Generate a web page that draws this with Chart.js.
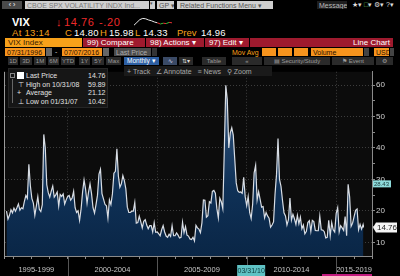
<!DOCTYPE html>
<html>
<head>
<meta charset="utf-8">
<script src="https://cdn.jsdelivr.net/npm/chart.js@4.4.1/dist/chart.umd.min.js"></script>
<style>
body{margin:0;width:400px;height:276px;background:#000;overflow:hidden;position:relative;font-family:"Liberation Sans",Arial,sans-serif}
.a{position:absolute;white-space:nowrap;line-height:1}
.box{position:absolute;box-sizing:border-box;white-space:nowrap;overflow:hidden;line-height:1}
.btn{background:#2a2a2a;color:#9c9c9c;font-size:6px;height:8px;padding-top:1px;text-align:center}
.red{background:#9e1a2e;color:#fff;font-size:8px;height:9px;padding:1px 0 0 4px}
.org{background:#f7941d;color:#2a1200;font-size:7px;height:8px;padding:1px 0 0 2px}
.amb{color:#f7a11a}
.w{color:#fff}
.lg{color:#e2e2e2;font-size:7px}
</style>
</head>
<body>
<!-- top strip -->
<div class="box" style="left:2px;top:1px;width:20px;height:8px;background:#4a4a4a;color:#fff;font-size:7px;text-align:center">&#x2039; &#x203A;</div>
<div class="box" style="left:25px;top:1px;width:124px;height:8px;background:#cfcfcf;color:#7a7a7a;font-size:7px;padding:1px 0 0 2px">CBOE SPX VOLATILITY INDX Ind...</div>
<div class="box" style="left:150px;top:1px;width:5px;height:8px;background:#cfcfcf;color:#555;font-size:5px">&#9662;</div>
<div class="box" style="left:157px;top:1px;width:17px;height:8px;background:#cfcfcf;color:#555;font-size:7px;padding:1px 0 0 2px">GP &#9662;</div>
<div class="box" style="left:177px;top:1px;width:96px;height:8px;background:#cfcfcf;color:#555;font-size:7px;padding:1px 0 0 3px">Related Functions Menu &#9662;</div>
<div class="box" style="left:317px;top:1px;width:30px;height:8px;background:#1e1e1e;color:#bbb;font-size:7px;padding:1px 0 0 2px">Message</div>
<div class="a" style="left:352px;top:1px;font-size:7px;color:#ddd">&#9733;&#9662; <span style="color:#6c6">&#9633;</span>&#9662; &#9881;&#9662; ?&#9662;</div>

<!-- quote line -->
<div class="a w" style="left:12px;top:17px;font-size:11px;font-weight:bold">VIX</div>
<div class="a" style="left:56px;top:17px;font-size:11px;color:#ee2a2a;font-weight:bold">&#8595;</div>
<div class="a" style="left:64px;top:17px;font-size:11px;color:#ee2a2a;letter-spacing:0.6px">14.76</div>
<div class="a" style="left:99px;top:17px;font-size:11px;color:#ee2a2a;letter-spacing:0.6px">-.20</div>
<canvas id="spark" width="40" height="10" style="position:absolute;left:133px;top:17px"></canvas>
<div class="a amb" style="left:12px;top:28px;font-size:9.5px;letter-spacing:0.3px">At 13:14</div>
<div class="a amb" style="left:65px;top:28px;font-size:9.5px">C</div>
<div class="a w" style="left:74px;top:28px;font-size:9.5px;letter-spacing:0.2px">14.80</div>
<div class="a amb" style="left:100px;top:28px;font-size:9.5px">H</div>
<div class="a w" style="left:109px;top:28px;font-size:9.5px;letter-spacing:0.2px">15.98</div>
<div class="a amb" style="left:135px;top:28px;font-size:9.5px">L</div>
<div class="a w" style="left:143px;top:28px;font-size:9.5px;letter-spacing:0.2px">14.33</div>
<div class="a amb" style="left:177px;top:28px;font-size:9.5px">Prev</div>
<div class="a w" style="left:201px;top:28px;font-size:9.5px;letter-spacing:0.2px">14.96</div>

<!-- function bar -->
<div class="box" style="left:5px;top:38px;width:77px;height:9px;background:#f7a11a;color:#3a1a00;font-size:8px;padding:1px 0 0 3px">VIX Index</div>
<div class="box red" style="left:83px;top:38px;width:62px">99) Compare</div>
<div class="box red" style="left:146px;top:38px;width:58px">98) Actions &#9662;</div>
<div class="box red" style="left:205px;top:38px;width:44px">97) Edit &#9662;</div>
<div class="box red" style="left:250px;top:38px;width:143px;text-align:right;padding-right:3px">Line Chart</div>

<!-- range row -->
<div class="box org" style="left:5px;top:48px;width:40px">07/31/1996</div>
<div class="box" style="left:46px;top:48px;width:6px;height:8px;background:#666"></div>
<div class="a" style="left:55px;top:48px;font-size:7px;color:#ccc">-</div>
<div class="box org" style="left:62px;top:48px;width:40px">07/07/2016</div>
<div class="box" style="left:103px;top:48px;width:6px;height:8px;background:#666"></div>
<div class="box" style="left:114px;top:48px;width:37px;height:8px;background:#4a4a4a;color:#aaa;font-size:7px;padding:1px 0 0 2px">Last Price</div>
<div class="box" style="left:152px;top:48px;width:5px;height:8px;background:#333"></div>
<div class="a amb" style="left:232px;top:49px;font-size:7px">Mov Avg</div>
<div class="box" style="left:262px;top:48px;width:14px;height:8px;background:#f7941d"></div>
<div class="box" style="left:278px;top:48px;width:14px;height:8px;background:#f7941d"></div>
<div class="box" style="left:294px;top:48px;width:14px;height:8px;background:#f7941d"></div>
<div class="box org" style="left:311px;top:48px;width:52px">Volume</div>
<div class="box" style="left:364px;top:48px;width:5px;height:8px;background:#444"></div>
<div class="box org" style="left:374px;top:48px;width:15px">USD</div>
<div class="box" style="left:390px;top:48px;width:4px;height:8px;background:#444"></div>

<!-- period buttons -->
<div class="box btn" style="left:8px;top:57px;width:10px">1D</div>
<div class="box btn" style="left:20px;top:57px;width:12px">3D</div>
<div class="box btn" style="left:34px;top:57px;width:12px">1M</div>
<div class="box btn" style="left:48px;top:57px;width:11px">6M</div>
<div class="box btn" style="left:61px;top:57px;width:14px">YTD</div>
<div class="box btn" style="left:79px;top:57px;width:11px">1Y</div>
<div class="box btn" style="left:92px;top:57px;width:12px">5Y</div>
<div class="box btn" style="left:106px;top:57px;width:15px">Max</div>
<div class="box btn" style="left:124px;top:57px;width:35px;background:#2d5fa3;color:#fff;text-align:left;padding-left:3px;font-size:6.5px">Monthly &#9662;</div>
<div class="box btn" style="left:163px;top:57px;width:14px;background:#3a4a66;color:#dde">&#8767;</div>
<div class="box btn" style="left:179px;top:57px;width:14px;color:#ddd">&#8645;&#9662;</div>
<div class="box btn" style="left:202px;top:57px;width:24px">Table</div>
<div class="box btn" style="left:232px;top:57px;width:30px">&#171;</div>
<div class="box btn" style="left:264px;top:57px;width:66px">&#9636; Security/Study</div>
<div class="box btn" style="left:332px;top:57px;width:42px">&#9873; Event</div>
<div class="box btn" style="left:376px;top:57px;width:17px">&#9881;</div>

<canvas id="chart" width="400" height="210" style="position:absolute;left:0;top:66px"></canvas>

<!-- chart toolbar -->
<div class="box" style="left:124px;top:66px;width:148px;height:10px;background:#1a1a1a;color:#a8a8a8;font-size:7px;padding:2px 0 0 3px">+ Track &nbsp;&nbsp;&#8736; Annotate &nbsp;&nbsp;&#8801; News &nbsp;&nbsp;&#9906; Zoom</div>

<!-- legend -->
<div class="box" style="left:8px;top:68px;width:100px;height:40px;background:#161616;border:1px solid #262626"></div>
<div class="box" style="left:10px;top:73px;width:5px;height:5px;border:1px solid #888"></div>
<div class="box" style="left:17px;top:72px;width:7px;height:7px;background:#fff"></div>
<div class="box" style="left:12px;top:79px;width:1px;height:24px;background:#666"></div>
<div class="a lg" style="left:26px;top:72px">Last Price</div>
<div class="a lg" style="left:88px;top:72px">14.76</div>
<div class="a lg" style="left:18px;top:81px">&#8868;</div>
<div class="a lg" style="left:26px;top:81px">High on 10/31/08</div>
<div class="a lg" style="left:88px;top:81px">59.89</div>
<div class="a lg" style="left:17px;top:89px">+</div>
<div class="a lg" style="left:26px;top:89px">Average</div>
<div class="a lg" style="left:88px;top:89px">21.12</div>
<div class="a lg" style="left:18px;top:98px">&#8869;</div>
<div class="a lg" style="left:26px;top:98px">Low on 01/31/07</div>
<div class="a lg" style="left:88px;top:98px">10.42</div>

<div class="box" style="left:322px;top:274px;width:50px;height:2px;background:#c21a7e"></div>

<script>
// VIX month-end closes (Bloomberg, monthly), Jul 1996 .. 07/07/2016
const vix1996to1999 = [
  19.9, 17.4, 18.6, 20.4, 19.4, 20.9,
  19.9, 21.0, 22.2, 20.2, 21.0, 20.7, 23.0, 24.9, 24.0, 34.8, 28.0, 24.0,
  22.5, 18.6, 21.5, 24.5, 20.5, 19.8, 22.0, 44.3, 40.0, 28.3, 25.8, 24.4,
  26.3, 27.9, 24.4, 25.1, 26.0, 21.5, 25.2, 24.6, 25.4, 22.2, 23.5, 24.6
];
const vix2000to2004 = [
  24.9, 23.4, 24.1, 26.2, 21.0, 19.5, 20.0, 17.0, 20.6, 26.0, 29.8, 26.9,
  22.5, 26.0, 28.6, 25.5, 21.0, 19.3, 22.0, 25.0, 31.7, 33.2, 25.5, 23.8,
  22.1, 21.6, 17.7, 23.5, 22.0, 25.4, 32.0, 32.6, 39.7, 31.1, 27.5, 28.6,
  31.2, 29.6, 27.0, 21.2, 19.5, 19.5, 19.9, 19.9, 22.7, 16.1, 16.3, 18.3,
  16.6, 14.6, 16.7, 17.2, 15.5, 14.3, 15.3, 15.3, 13.3, 16.3, 13.2, 13.3
];
const vix2005to2009 = [
  12.8, 12.1, 14.0, 15.3, 13.3, 12.0, 11.6, 12.6, 11.9, 15.3, 12.1, 12.1,
  13.0, 12.3, 11.4, 11.6, 16.4, 13.1, 15.0, 12.3, 12.0, 11.1, 10.9, 11.6,
  10.42, 15.4, 14.6, 14.2, 13.1, 16.2, 23.5, 23.4, 18.0, 18.5, 22.9, 22.5,
  26.2, 26.5, 25.6, 20.8, 17.8, 24.0, 22.9, 20.7, 39.4, 59.89, 55.3, 40.0,
  44.8, 46.4, 44.1, 36.5, 28.9, 26.4, 25.9, 26.0, 25.6, 30.7, 24.5, 21.7
];
const vix2010to2016 = [
  24.6, 19.5, 17.6, 22.1, 32.1, 34.5, 23.5, 26.1, 23.7, 21.2, 21.4, 17.8,
  19.5, 18.4, 17.7, 14.8, 15.5, 16.5, 25.3, 31.6, 43.0, 30.0, 27.8, 23.4,
  19.4, 18.4, 15.5, 17.2, 24.1, 17.1, 18.9, 17.5, 15.7, 18.6, 15.9, 18.0,
  14.3, 15.5, 12.7, 13.5, 16.3, 16.9, 13.5, 17.0, 16.6, 13.8, 13.7, 13.7,
  18.4, 14.0, 13.9, 13.4, 11.4, 11.6, 17.0, 12.1, 16.3, 14.0, 13.3, 19.2,
  21.0, 13.3, 15.3, 14.6, 13.8, 18.2, 12.1, 28.43, 24.5, 15.1, 16.1, 18.2,
  20.2, 20.6, 14.0, 15.7, 14.2, 15.6, 14.76
];
const firstYear = 1996, firstMonth = 7;        // first close: 07/31/1996
const lastDay = 7;                              // last point is 07/07/2016
const periodLabels = ['1995-1999', '2000-2004', '2005-2009', '2010-2014', '2015-2019'];
const periodStarts = [1995, 2000, 2005, 2010, 2015];
const yTicks = [10, 20, 30, 40, 50, 60];
const lastPrice = 14.76, markedHigh = 28.43, cursorLabel = '03/31/10', cursorDate = 2010.25;
const sparkValues = [14.2, 14.9, 15.6, 15.9, 15.8, 15.5, 15.3, 15.0, 14.8, 14.5, 14.7, 14.6, 14.9, 14.8];

const xMin = 1996.5, xMax = 2017.0, yMin = 5.67, yMax = 64.2;

const vix = [].concat(vix1996to1999, vix2000to2004, vix2005to2009, vix2010to2016);
const points = vix.map((v, i) => {
  const m = firstMonth - 1 + i;
  const yr = firstYear + Math.floor(m / 12);
  const mo = m % 12 + 1;
  const x = i === vix.length - 1 ? yr + (mo - 1) / 12 + lastDay / 365 : yr + mo / 12;
  return {x: x, y: v};
});

const periodTicks = periodStarts.map((s, i) => {
  const a = Math.max(s, xMin), b = Math.min(s + 5, xMax);
  return {value: (a + b) / 2, label: periodLabels[i], period: true};
});
const yearTicks = [];
for (let y = Math.ceil(xMin); y <= Math.floor(xMax); y++) yearTicks.push({value: y});

const grid = '#3d3d3d';
const axisGrey = '#8a8a8a';

const extras = {
  id: 'extras',
  beforeDraw(chart) {
    const {ctx, chartArea: c} = chart;
    ctx.save();
    ctx.fillStyle = '#0c0c0c';
    ctx.fillRect(c.left, c.top, c.right - c.left, c.bottom - c.top);
    ctx.fillStyle = '#9a9a9a';
    ctx.fillRect(c.left - 1, c.top, 1, c.bottom - c.top + 3);
    ctx.restore();
  },
  afterDraw(chart) {
    const {ctx, chartArea: c, scales} = chart;
    ctx.save();
    // period separators below the axis
    ctx.strokeStyle = '#555';
    ctx.lineWidth = 1;
    periodStarts.forEach(s => {
      if (s <= xMin || s >= xMax) return;
      const px = Math.round(scales.x.getPixelForValue(s)) + 0.5;
      ctx.beginPath();
      ctx.moveTo(px, c.bottom + 1);
      ctx.lineTo(px, chart.height);
      ctx.stroke();
    });
    // high marker tag
    let py = scales.y.getPixelForValue(markedHigh);
    ctx.fillStyle = '#8fdcdc';
    ctx.fillRect(c.right + 1, py - 4, 18, 7);
    ctx.fillStyle = '#1a3a3a';
    ctx.font = '6px "Liberation Sans", Arial';
    ctx.textBaseline = 'middle';
    ctx.fillText(markedHigh.toFixed(2), c.right + 2, py);
    // last price tag
    py = scales.y.getPixelForValue(lastPrice);
    ctx.fillStyle = '#f4f4f4';
    ctx.beginPath();
    ctx.moveTo(c.right + 1, py);
    ctx.lineTo(c.right + 4, py - 5);
    ctx.lineTo(c.right + 25, py - 5);
    ctx.lineTo(c.right + 25, py + 5);
    ctx.lineTo(c.right + 4, py + 5);
    ctx.closePath();
    ctx.fill();
    ctx.fillStyle = '#222';
    ctx.font = '8px "Liberation Sans", Arial';
    ctx.fillText(lastPrice.toFixed(2), c.right + 5, py + 0.5);
    // crosshair date label
    const cx = scales.x.getPixelForValue(cursorDate);
    ctx.fillStyle = '#5fc2c4';
    ctx.fillRect(cx - 14, c.bottom + 9, 28, 11);
    ctx.fillStyle = '#0d3a3c';
    ctx.font = '7px "Liberation Sans", Arial';
    ctx.textAlign = 'center';
    ctx.fillText(cursorLabel, cx, c.bottom + 15);
    ctx.restore();
  }
};

new Chart(document.getElementById('chart'), {
  type: 'line',
  data: {
    datasets: [{
      data: points,
      borderColor: '#d8dde4',
      borderWidth: 1.2,
      pointRadius: 0,
      tension: 0,
      fill: 'start',
      backgroundColor(ctx) {
        const {chart} = ctx;
        const area = chart.chartArea;
        if (!area) return '#0b2a4d';
        const y = chart.scales.y;
        const g = chart.ctx.createLinearGradient(0, y.getPixelForValue(60), 0, area.bottom);
        g.addColorStop(0, '#5d7391');
        g.addColorStop(0.3, '#23456c');
        g.addColorStop(0.6, '#0f3157');
        g.addColorStop(1, '#0a2646');
        return g;
      }
    }]
  },
  options: {
    responsive: false,
    animation: false,
    layout: {padding: {left: 5, top: 1, right: 0, bottom: 0}},
    plugins: {legend: {display: false}, tooltip: {enabled: false}},
    scales: {
      x: {
        type: 'linear',
        min: xMin,
        max: xMax,
        afterBuildTicks(s) { s.ticks = yearTicks.concat(periodTicks); },
        afterFit(s) { s.height = 20; },
        border: {display: true, color: axisGrey, dash: [1, 2]},
        grid: {
          color: c => (!c.tick.period && c.tick.value % 5 === 0) ? grid : 'rgba(0,0,0,0)',
          tickColor: c => c.tick.period ? 'rgba(0,0,0,0)' : axisGrey,
          tickLength: 3,
          tickBorderDash: []
        },
        ticks: {
          autoSkip: false,
          maxRotation: 0,
          padding: 6,
          color: '#c4c4c4',
          font: {size: 7.5, family: '"Liberation Sans", Arial'},
          callback(value, index) { return this.ticks[index].label || ''; }
        }
      },
      y: {
        position: 'right',
        min: yMin,
        max: yMax,
        afterBuildTicks(s) {
          const t = [];
          for (let v = 5; v <= yMax; v += 5) if (v >= yMin) t.push({value: v});
          s.ticks = t;
        },
        afterFit(s) { s.width = 28; },
        border: {display: true, color: axisGrey, dash: [1, 2]},
        grid: {
          color: c => yTicks.includes(c.tick.value) ? grid : 'rgba(0,0,0,0)',
          tickColor: axisGrey,
          tickLength: 3,
          tickBorderDash: []
        },
        ticks: {
          autoSkip: false,
          padding: 1,
          color: '#cfcfcf',
          font: {size: 8, family: '"Liberation Sans", Arial'},
          callback: v => yTicks.includes(v) ? String(v) : ''
        }
      }
    }
  },
  plugins: [extras]
});

new Chart(document.getElementById('spark'), {
  type: 'line',
  data: {
    labels: sparkValues.map((v, i) => i),
    datasets: [{
      data: sparkValues,
      borderWidth: 1,
      pointRadius: 0,
      segment: {
        borderColor: c => c.p0DataIndex < 8 ? '#e8e8e8' : (c.p1.parsed.y >= c.p0.parsed.y ? '#2fbf3a' : '#e53030')
      }
    }]
  },
  options: {
    responsive: false,
    animation: false,
    plugins: {legend: {display: false}, tooltip: {enabled: false}},
    layout: {padding: 1},
    scales: {x: {display: false}, y: {display: false}}
  }
});
</script>
</body>
</html>
